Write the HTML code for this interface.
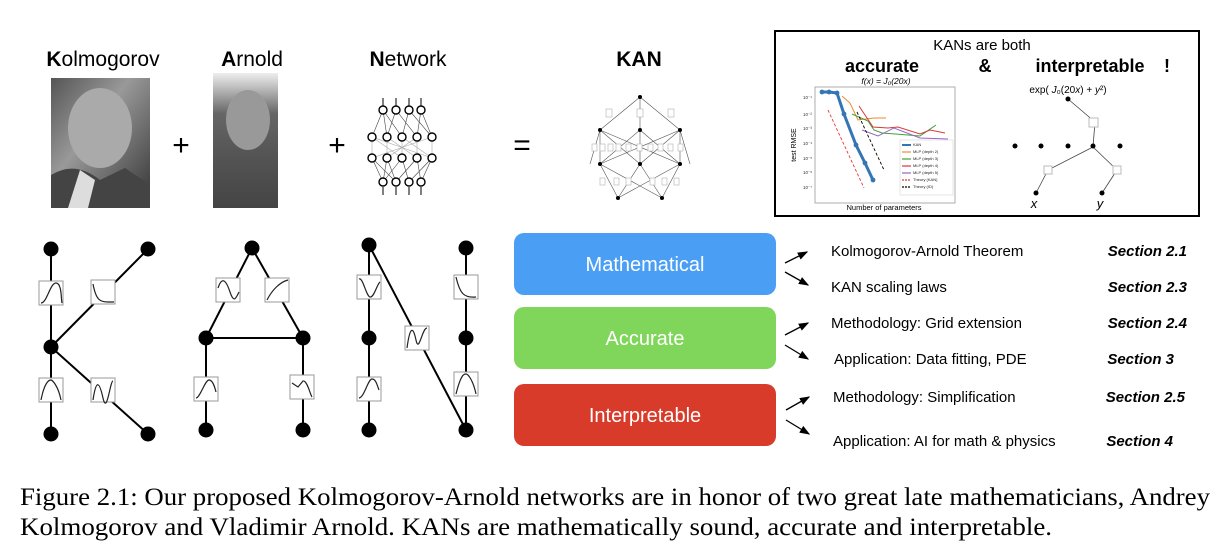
<!DOCTYPE html>
<html><head><meta charset="utf-8"><style>
html,body{margin:0;padding:0;background:#fff;}
body{width:1221px;height:547px;overflow:hidden;position:relative;}
svg{position:absolute;left:0;top:0;}
</style></head><body>
<svg width="1221" height="547" viewBox="0 0 1221 547" font-family="Liberation Sans, sans-serif">
<defs>
<linearGradient id="g1" x1="0" y1="0" x2="1" y2="1"><stop offset="0" stop-color="#555"/><stop offset=".4" stop-color="#999"/><stop offset=".7" stop-color="#666"/><stop offset="1" stop-color="#333"/></linearGradient>
<linearGradient id="g2" x1="0" y1="0" x2="0" y2="1"><stop offset="0" stop-color="#eee"/><stop offset=".3" stop-color="#666"/><stop offset=".6" stop-color="#555"/><stop offset="1" stop-color="#444"/></linearGradient>
<marker id="ar" markerWidth="8" markerHeight="8" refX="7" refY="4" orient="auto"><path d="M0,1 L8,4 L0,7 Z" fill="#000"/></marker>
</defs>
<text x="103" y="66" font-size="21" text-anchor="middle"><tspan font-weight="bold">K</tspan>olmogorov</text>
<text x="252" y="66" font-size="21" text-anchor="middle"><tspan font-weight="bold">A</tspan>rnold</text>
<text x="408" y="66" font-size="21" text-anchor="middle"><tspan font-weight="bold">N</tspan>etwork</text>
<text x="639" y="66" font-size="21" font-weight="bold" text-anchor="middle">KAN</text>
<rect x="51" y="78" width="99" height="130" fill="url(#g1)"/>
<ellipse cx="100" cy="128" rx="32" ry="40" fill="#aaa"/>
<path d="M51,208 L51,175 Q75,160 100,180 L125,168 L150,185 L150,208Z" fill="#444"/>
<path d="M68,208 L80,170 L95,180 L88,208Z" fill="#ddd"/>
<rect x="213" y="73" width="65" height="135" fill="url(#g2)"/>
<ellipse cx="248" cy="120" rx="22" ry="30" fill="#999"/>
<text x="181" y="155" font-size="30" text-anchor="middle">+</text>
<text x="337" y="155" font-size="30" text-anchor="middle">+</text>
<text x="522" y="155" font-size="30" text-anchor="middle">=</text>
<g stroke="#444" stroke-width="0.6" fill="none">
<path d="M383,110L387,137M383,110L402,137M396,110L387,137M396,110L417,137M409,110L402,137M409,110L432,137M421,110L417,137M421,110L432,137M383,110L372,137M421,110L432,137"/>
<path d="M372,137L372,158M387,137L387,158M402,137L402,158M417,137L417,158M432,137L432,158M372,137L432,158M432,137L372,158M387,137L417,158M417,137L387,158M372,137L402,158M402,137L432,158" stroke="#aaa"/>
<path d="M372,158L383,182M387,158L396,182M402,158L409,182M417,158L421,182M432,158L421,182M372,158L396,182M387,158L383,182M402,158L383,182M417,158L396,182M432,158L409,182"/>
<path d="M383,106V98M396,106V98M409,106V98M421,106V98M383,195V187M396,195V187M409,195V187M421,195V187" stroke="#000" stroke-width="1"/>
</g>
<g fill="#fff" stroke="#000" stroke-width="1.4">
<circle cx="383" cy="110" r="4"/><circle cx="396" cy="110" r="4"/><circle cx="409" cy="110" r="4"/><circle cx="421" cy="110" r="4"/>
<circle cx="372" cy="137" r="4"/><circle cx="387" cy="137" r="4"/><circle cx="402" cy="137" r="4"/><circle cx="417" cy="137" r="4"/><circle cx="432" cy="137" r="4"/>
<circle cx="372" cy="158" r="4"/><circle cx="387" cy="158" r="4"/><circle cx="402" cy="158" r="4"/><circle cx="417" cy="158" r="4"/><circle cx="432" cy="158" r="4"/>
<circle cx="383" cy="182" r="4"/><circle cx="396" cy="182" r="4"/><circle cx="409" cy="182" r="4"/><circle cx="421" cy="182" r="4"/>
</g>
<g stroke="#555" stroke-width="0.6" fill="none">
<path d="M640,97L600,130M640,97L640,130M640,97L680,130"/>
<path d="M600,130L590,164M600,130L640,164M600,130L680,164M640,130L600,164M640,130L680,164M680,130L600,164M680,130L640,164M640,130L640,164M680,130L690,164M600,130L600,164M680,130L680,164"/>
<path d="M600,164L618,198M600,164L662,198M640,164L618,198M640,164L662,198M680,164L618,198M680,164L662,198"/>
</g>
<g fill="#fff" stroke="#bbb" stroke-width="0.7">
<rect x="606" y="109" width="6" height="8"/><rect x="637" y="109" width="6" height="8"/><rect x="668" y="109" width="6" height="8"/>
<rect x="592" y="144" width="5" height="7"/><rect x="600" y="144" width="5" height="7"/><rect x="608" y="144" width="5" height="7"/><rect x="616" y="144" width="5" height="7"/><rect x="626" y="144" width="5" height="7"/><rect x="637" y="144" width="5" height="7"/><rect x="648" y="144" width="5" height="7"/><rect x="658" y="144" width="5" height="7"/><rect x="668" y="144" width="5" height="7"/><rect x="678" y="144" width="5" height="7"/>
<rect x="600" y="178" width="5" height="7"/><rect x="614" y="178" width="5" height="7"/><rect x="626" y="178" width="5" height="7"/><rect x="650" y="178" width="5" height="7"/><rect x="662" y="178" width="5" height="7"/><rect x="674" y="178" width="5" height="7"/>
</g>
<g fill="#000"><circle cx="640" cy="97" r="2"/><circle cx="600" cy="130" r="2"/><circle cx="640" cy="130" r="2"/><circle cx="680" cy="130" r="2"/><circle cx="600" cy="164" r="2"/><circle cx="640" cy="164" r="2"/><circle cx="680" cy="164" r="2"/><circle cx="618" cy="198" r="2"/><circle cx="662" cy="198" r="2"/></g>
<rect x="775" y="31" width="424" height="185" fill="#fff" stroke="#000" stroke-width="2"/>
<text x="982" y="50" font-size="15" text-anchor="middle">KANs are both</text>
<text x="882" y="72" font-size="18" font-weight="bold" text-anchor="middle">accurate</text>
<text x="985" y="72" font-size="18" font-weight="bold" text-anchor="middle">&amp;</text>
<text x="1090" y="72" font-size="18" font-weight="bold" text-anchor="middle">interpretable</text>
<text x="1167" y="72" font-size="18" font-weight="bold" text-anchor="middle">!</text>
<text x="886" y="84" font-size="8.5" text-anchor="middle" font-style="italic">f(x) = J₀(20x)</text>
<rect x="815" y="87" width="140" height="116" fill="#fff" stroke="#999" stroke-width="0.8"/>
<text x="884" y="210" font-size="7.5" text-anchor="middle">Number of parameters</text>
<text x="796" y="145" font-size="7" text-anchor="middle" transform="rotate(-90 796 145)">test RMSE</text>
<g font-size="4.5" fill="#333"><text x="803" y="99">10⁻¹</text><text x="803" y="116">10⁻²</text><text x="803" y="130">10⁻³</text><text x="803" y="145">10⁻⁴</text><text x="803" y="160">10⁻⁵</text><text x="803" y="174">10⁻⁶</text><text x="803" y="189">10⁻⁷</text></g>
<polyline points="822,92 829,92 837,93 844,114 856,145 865,163 873,180" fill="none" stroke="#3475b6" stroke-width="3"/>
<g fill="#3475b6"><circle cx="822" cy="92" r="2.4"/><circle cx="829" cy="92" r="2.4"/><circle cx="837" cy="93" r="2.4"/><circle cx="844" cy="114" r="2.4"/><circle cx="856" cy="145" r="2.4"/><circle cx="865" cy="163" r="2.4"/><circle cx="873" cy="180" r="2.4"/></g>
<polyline points="842,96 850,103 858,120 866,119 874,118 886,118" fill="none" stroke="#f08a2c" stroke-width="1"/>
<polyline points="852,114 868,121 874,130 882,133 908,135 920,136 936,125" fill="none" stroke="#3ca33c" stroke-width="1"/>
<polyline points="859,106 873,127 888,128 898,127 920,134 930,130 945,133" fill="none" stroke="#d63a3a" stroke-width="1"/>
<polyline points="862,130 878,136 894,128 920,138 948,139" fill="none" stroke="#9466c4" stroke-width="1"/>
<line x1="828" y1="110" x2="864" y2="188" stroke="#e33" stroke-width="0.9" stroke-dasharray="3,2"/>
<line x1="857" y1="112" x2="884" y2="170" stroke="#000" stroke-width="0.9" stroke-dasharray="3,2"/>
<rect x="900" y="140" width="53" height="55" fill="#fff" stroke="#ccc" stroke-width="0.5"/>
<g font-size="4" fill="#222"><text x="913" y="146">KAN</text><text x="913" y="153">MLP (depth 2)</text><text x="913" y="160">MLP (depth 3)</text><text x="913" y="167">MLP (depth 4)</text><text x="913" y="174">MLP (depth 5)</text><text x="913" y="181">Theory (KAN)</text><text x="913" y="188">Theory (ID)</text></g>
<g stroke-width="1.2"><line x1="902" y1="145" x2="911" y2="145" stroke="#3475b6" stroke-width="2"/><line x1="902" y1="152" x2="911" y2="152" stroke="#f08a2c"/><line x1="902" y1="159" x2="911" y2="159" stroke="#3ca33c"/><line x1="902" y1="166" x2="911" y2="166" stroke="#d63a3a"/><line x1="902" y1="173" x2="911" y2="173" stroke="#9466c4"/><line x1="902" y1="180" x2="911" y2="180" stroke="#e33" stroke-dasharray="2,1"/><line x1="902" y1="187" x2="911" y2="187" stroke="#000" stroke-dasharray="2,1"/></g>
<text x="1068" y="93" font-size="10" text-anchor="middle">exp( <tspan font-style="italic">J</tspan>₀(20<tspan font-style="italic">x</tspan>) + <tspan font-style="italic">y</tspan>²)</text>
<g stroke="#444" stroke-width="0.8" fill="none"><path d="M1068,99L1095,122L1093,147M1093,147L1048,170L1036,193M1093,147L1117,170L1102,193"/></g>
<g fill="#fff" stroke="#bbb"><rect x="1089" y="118" width="9" height="9"/><rect x="1044" y="166" width="8" height="8"/><rect x="1113" y="166" width="8" height="8"/></g>
<g fill="#000"><circle cx="1068" cy="99" r="2.5"/><circle cx="1015" cy="146" r="2.5"/><circle cx="1041" cy="146" r="2.5"/><circle cx="1068" cy="146" r="2.5"/><circle cx="1093" cy="146" r="2.5"/><circle cx="1120" cy="146" r="2.5"/><circle cx="1036" cy="193" r="2.5"/><circle cx="1102" cy="193" r="2.5"/></g>
<text x="1034" y="208" font-size="13" font-style="italic" text-anchor="middle">x</text>
<text x="1100" y="208" font-size="13" font-style="italic" text-anchor="middle">y</text>
<g stroke="#000" stroke-width="2" fill="none">
<path d="M51,249V434M148,249L51,347L148,434"/>
<path d="M252,248L206,338L303,338L252,248M206,338V430M303,338V430"/>
<path d="M369,245V430M369,245L466,430M466,248V430"/>
</g>
<g fill="#fff" stroke="#999" stroke-width="1">
<rect x="39" y="281" width="24" height="24"/><rect x="91" y="280" width="24" height="24"/><rect x="39" y="378" width="24" height="24"/><rect x="91" y="378" width="24" height="24"/>
<rect x="216" y="278" width="24" height="24"/><rect x="265" y="278" width="24" height="24"/><rect x="194" y="377" width="24" height="24"/><rect x="290" y="375" width="24" height="24"/>
<rect x="357" y="275" width="24" height="24"/><rect x="454" y="275" width="24" height="24"/><rect x="405" y="326" width="24" height="24"/><rect x="357" y="377" width="24" height="24"/><rect x="454" y="372" width="24" height="24"/>
</g>
<g stroke="#222" stroke-width="1.2" fill="none">
<path d="M41,303C47,303 50,283 56,283S61,300 62,303"/>
<path d="M93,284C96,300 100,302 108,302L114,302"/>
<path d="M41,400C45,380 50,380 51,380S58,385 61,400"/>
<path d="M93,400C96,380 99,380 103,398S110,381 113,381"/>
<path d="M218,288C222,276 226,280 230,292S236,298 239,292"/>
<path d="M267,300C272,290 280,282 288,280"/>
<path d="M196,398C200,398 205,380 209,380S215,388 216,392"/>
<path d="M292,383L298,387L303,381C307,380 310,394 312,397"/>
<path d="M359,279C363,277 366,296 370,297S377,284 380,282"/>
<path d="M456,277C460,294 464,298 476,297"/>
<path d="M407,348C410,326 413,326 416,340S422,328 427,328"/>
<path d="M359,398C364,398 368,379 372,379S377,385 379,390"/>
<path d="M456,394C461,374 464,374 466,374S473,380 476,394"/>
</g>
<g fill="#000">
<circle cx="51" cy="249" r="7.5"/><circle cx="148" cy="249" r="7.5"/><circle cx="51" cy="347" r="7.5"/><circle cx="51" cy="434" r="7.5"/><circle cx="148" cy="434" r="7.5"/>
<circle cx="252" cy="248" r="7.5"/><circle cx="206" cy="338" r="7.5"/><circle cx="303" cy="338" r="7.5"/><circle cx="206" cy="430" r="7.5"/><circle cx="303" cy="430" r="7.5"/>
<circle cx="369" cy="245" r="7.5"/><circle cx="466" cy="248" r="7.5"/><circle cx="369" cy="338" r="7.5"/><circle cx="466" cy="338" r="7.5"/><circle cx="369" cy="430" r="7.5"/><circle cx="466" cy="430" r="7.5"/>
</g>
<rect x="514" y="233" width="262" height="62" rx="10" fill="#4a9ff5"/>
<rect x="514" y="307" width="262" height="62" rx="10" fill="#80d65a"/>
<rect x="514" y="384" width="262" height="62" rx="10" fill="#d93b2a"/>
<g fill="#fff" font-size="20" text-anchor="middle"><text x="645" y="271">Mathematical</text><text x="645" y="345">Accurate</text><text x="645" y="422">Interpretable</text></g>
<g stroke="#000" stroke-width="1.3" marker-end="url(#ar)">
<line x1="785" y1="263" x2="807" y2="252"/>
<line x1="785" y1="272" x2="808" y2="285"/>
<line x1="785" y1="335" x2="808" y2="323"/>
<line x1="785" y1="345" x2="808" y2="359"/>
<line x1="786" y1="410" x2="809" y2="397"/>
<line x1="786" y1="420" x2="809" y2="434"/>
</g>
<g font-size="15" fill="#000">
<text x="831" y="256">Kolmogorov-Arnold Theorem</text>
<text x="831" y="292">KAN scaling laws</text>
<text x="831" y="328">Methodology: Grid extension</text>
<text x="834" y="364">Application: Data fitting, PDE</text>
<text x="833" y="402">Methodology: Simplification</text>
<text x="833" y="446">Application: AI for math &amp; physics</text>
</g>
<g font-size="15" font-weight="bold" font-style="italic" fill="#000">
<text x="1187" y="256" text-anchor="end">Section 2.1</text>
<text x="1187" y="292" text-anchor="end">Section 2.3</text>
<text x="1187" y="328" text-anchor="end">Section 2.4</text>
<text x="1174" y="364" text-anchor="end">Section 3</text>
<text x="1185" y="402" text-anchor="end">Section 2.5</text>
<text x="1173" y="446" text-anchor="end">Section 4</text>
</g>
<g font-family="Liberation Serif, serif" font-size="25" fill="#000">
<text x="20" y="505" textLength="1190" lengthAdjust="spacingAndGlyphs">Figure 2.1: Our proposed Kolmogorov-Arnold networks are in honor of two great late mathematicians, Andrey</text>
<text x="20" y="535" textLength="1032" lengthAdjust="spacingAndGlyphs">Kolmogorov and Vladimir Arnold. KANs are mathematically sound, accurate and interpretable.</text>
</g>
</svg>
</body></html>
